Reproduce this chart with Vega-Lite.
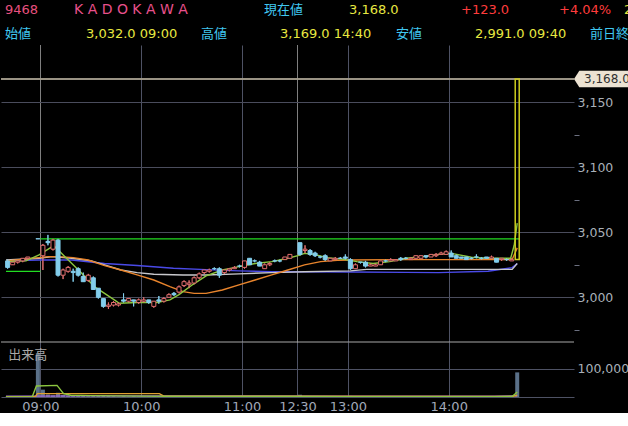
{
  "$schema": "https://vega.github.io/schema/vega-lite/v6.json",
  "background": "#000000",
  "padding": 0,
  "spacing": 0,
  "bounds": "flush",
  "config": {"view": {"stroke": null}, "font": "DejaVu Sans"},
  "resolve": {"scale": {"color": "independent", "fill": "independent", "stroke": "independent"}},
  "datasets": {
    "header": [
      {"x": 4, "row": 10, "label": "9468", "kind": "code"},
      {"x": 73, "row": 10, "label": "K A D O K A W A", "kind": "name"},
      {"x": 263, "row": 10, "label": "現在値", "kind": "cap"},
      {"x": 348, "row": 10, "label": "3,168.0", "kind": "val"},
      {"x": 460, "row": 10, "label": "+123.0", "kind": "chg"},
      {"x": 558, "row": 10, "label": "+4.04%", "kind": "chg"},
      {"x": 623, "row": 10, "label": "2", "kind": "val"},
      {"x": 4, "row": 34, "label": "始値", "kind": "cap"},
      {"x": 85, "row": 34, "label": "3,032.0 09:00", "kind": "val"},
      {"x": 200, "row": 34, "label": "高値", "kind": "cap"},
      {"x": 279, "row": 34, "label": "3,169.0 14:40", "kind": "val"},
      {"x": 395, "row": 34, "label": "安値", "kind": "cap"},
      {"x": 474, "row": 34, "label": "2,991.0 09:40", "kind": "val"},
      {"x": 589, "row": 34, "label": "前日終値", "kind": "cap"}
    ],
    "candles": [
      {"s": -6.5, "o": 3028, "h": 3029, "l": 3022, "c": 3023},
      {"s": -5.5, "o": 3025, "h": 3027, "l": 3025, "c": 3027},
      {"s": -4.5, "o": 3027, "h": 3028, "l": 3026, "c": 3028},
      {"s": -3.5, "o": 3028, "h": 3030, "l": 3027, "c": 3030},
      {"s": -2.5, "o": 3030, "h": 3031, "l": 3029, "c": 3031},
      {"s": -0.5, "o": 3045, "h": 3045, "l": 3045, "c": 3045},
      {"s": 0.5, "o": 3032, "h": 3041, "l": 3021, "c": 3040},
      {"s": 1.5, "o": 3043, "h": 3048, "l": 3040, "c": 3042},
      {"s": 2.5, "o": 3037, "h": 3045, "l": 3036, "c": 3044},
      {"s": 3.5, "o": 3044, "h": 3045, "l": 3016, "c": 3017},
      {"s": 4.5, "o": 3017, "h": 3022, "l": 3014, "c": 3021},
      {"s": 5.5, "o": 3020, "h": 3024, "l": 3019, "c": 3023},
      {"s": 6.5, "o": 3020, "h": 3022, "l": 3012, "c": 3019},
      {"s": 7.5, "o": 3022, "h": 3023, "l": 3016, "c": 3017},
      {"s": 8.5, "o": 3016, "h": 3019, "l": 3012, "c": 3012},
      {"s": 9.5, "o": 3013, "h": 3018, "l": 3012, "c": 3017},
      {"s": 10.5, "o": 3015, "h": 3016, "l": 3006, "c": 3006},
      {"s": 11.5, "o": 3007, "h": 3007, "l": 2999, "c": 3000},
      {"s": 12.5, "o": 2999, "h": 2999, "l": 2992, "c": 2993},
      {"s": 13.5, "o": 2993, "h": 2996, "l": 2991, "c": 2994},
      {"s": 14.5, "o": 2994, "h": 2997, "l": 2993, "c": 2996},
      {"s": 15.5, "o": 2994, "h": 2996, "l": 2993, "c": 2995},
      {"s": 16.5, "o": 2998, "h": 3003, "l": 2996, "c": 2997},
      {"s": 17.5, "o": 2997, "h": 2999, "l": 2996, "c": 2999},
      {"s": 18.5, "o": 2998, "h": 2998, "l": 2993, "c": 2997},
      {"s": 19.5, "o": 2996, "h": 2999, "l": 2995, "c": 2998},
      {"s": 20.5, "o": 2997, "h": 3000, "l": 2996, "c": 2998},
      {"s": 21.5, "o": 2998, "h": 2998, "l": 2995, "c": 2996},
      {"s": 22.5, "o": 2993, "h": 2997, "l": 2992, "c": 2997},
      {"s": 23.5, "o": 2998, "h": 3001, "l": 2995, "c": 2997},
      {"s": 24.5, "o": 2997, "h": 3000, "l": 2996, "c": 2999},
      {"s": 25.5, "o": 3000, "h": 3003, "l": 3000, "c": 3002},
      {"s": 26.5, "o": 3003, "h": 3004, "l": 3001, "c": 3002},
      {"s": 27.5, "o": 3004, "h": 3009, "l": 3003, "c": 3008},
      {"s": 28.5, "o": 3009, "h": 3013, "l": 3008, "c": 3012},
      {"s": 29.5, "o": 3010, "h": 3013, "l": 3007, "c": 3011},
      {"s": 30.5, "o": 3011, "h": 3016, "l": 3010, "c": 3015},
      {"s": 31.5, "o": 3015, "h": 3019, "l": 3014, "c": 3018},
      {"s": 32.5, "o": 3019, "h": 3021, "l": 3018, "c": 3021},
      {"s": 33.5, "o": 3020, "h": 3022, "l": 3019, "c": 3021},
      {"s": 34.5, "o": 3022, "h": 3023, "l": 3021, "c": 3022},
      {"s": 35.5, "o": 3022, "h": 3023, "l": 3015, "c": 3017},
      {"s": 36.5, "o": 3019, "h": 3021, "l": 3018, "c": 3021},
      {"s": 37.5, "o": 3021, "h": 3022, "l": 3020, "c": 3022},
      {"s": 38.5, "o": 3022, "h": 3024, "l": 3022, "c": 3023},
      {"s": 39.5, "o": 3024, "h": 3025, "l": 3023, "c": 3024},
      {"s": 40.5, "o": 3023, "h": 3028, "l": 3022, "c": 3028},
      {"s": 41.5, "o": 3030, "h": 3030, "l": 3025, "c": 3025},
      {"s": 42.5, "o": 3028, "h": 3029, "l": 3027, "c": 3028},
      {"s": 43.5, "o": 3027, "h": 3028, "l": 3024, "c": 3024},
      {"s": 44.5, "o": 3022, "h": 3026, "l": 3022, "c": 3025},
      {"s": 45.5, "o": 3025, "h": 3027, "l": 3024, "c": 3026},
      {"s": 46.5, "o": 3028, "h": 3029, "l": 3027, "c": 3028},
      {"s": 47.5, "o": 3028, "h": 3029, "l": 3027, "c": 3028},
      {"s": 48.5, "o": 3029, "h": 3031, "l": 3029, "c": 3031},
      {"s": 49.5, "o": 3030, "h": 3033, "l": 3030, "c": 3033},
      {"s": 51.5, "o": 3042, "h": 3042, "l": 3032, "c": 3033},
      {"s": 52.5, "o": 3036, "h": 3040, "l": 3034, "c": 3037},
      {"s": 53.5, "o": 3036, "h": 3037, "l": 3032, "c": 3033},
      {"s": 54.5, "o": 3034, "h": 3035, "l": 3031, "c": 3032},
      {"s": 55.5, "o": 3031, "h": 3032, "l": 3030, "c": 3031},
      {"s": 56.5, "o": 3032, "h": 3033, "l": 3028, "c": 3029},
      {"s": 57.5, "o": 3028, "h": 3030, "l": 3028, "c": 3030},
      {"s": 58.5, "o": 3029, "h": 3031, "l": 3029, "c": 3030},
      {"s": 59.5, "o": 3030, "h": 3031, "l": 3030, "c": 3030},
      {"s": 60.5, "o": 3031, "h": 3033, "l": 3029, "c": 3030},
      {"s": 61.5, "o": 3029, "h": 3030, "l": 3021, "c": 3022},
      {"s": 62.5, "o": 3022, "h": 3026, "l": 3022, "c": 3025},
      {"s": 63.5, "o": 3027, "h": 3027, "l": 3026, "c": 3027},
      {"s": 64.5, "o": 3027, "h": 3028, "l": 3023, "c": 3024},
      {"s": 65.5, "o": 3024, "h": 3026, "l": 3024, "c": 3025},
      {"s": 66.5, "o": 3024, "h": 3026, "l": 3024, "c": 3025},
      {"s": 67.5, "o": 3025, "h": 3028, "l": 3025, "c": 3028},
      {"s": 68.5, "o": 3028, "h": 3029, "l": 3027, "c": 3028},
      {"s": 69.5, "o": 3028, "h": 3030, "l": 3028, "c": 3029},
      {"s": 70.5, "o": 3028, "h": 3029, "l": 3028, "c": 3029},
      {"s": 71.5, "o": 3030, "h": 3031, "l": 3028, "c": 3029},
      {"s": 72.5, "o": 3030, "h": 3031, "l": 3029, "c": 3030},
      {"s": 73.5, "o": 3029, "h": 3031, "l": 3029, "c": 3030},
      {"s": 74.5, "o": 3030, "h": 3032, "l": 3029, "c": 3032},
      {"s": 75.5, "o": 3030, "h": 3032, "l": 3030, "c": 3032},
      {"s": 76.5, "o": 3032, "h": 3032, "l": 3030, "c": 3031},
      {"s": 77.5, "o": 3031, "h": 3033, "l": 3031, "c": 3033},
      {"s": 78.5, "o": 3032, "h": 3034, "l": 3031, "c": 3033},
      {"s": 79.5, "o": 3033, "h": 3035, "l": 3033, "c": 3034},
      {"s": 80.5, "o": 3033, "h": 3036, "l": 3033, "c": 3035},
      {"s": 81.5, "o": 3034, "h": 3036, "l": 3031, "c": 3031},
      {"s": 82.5, "o": 3032, "h": 3033, "l": 3030, "c": 3030},
      {"s": 83.5, "o": 3031, "h": 3031, "l": 3030, "c": 3030},
      {"s": 84.5, "o": 3031, "h": 3031, "l": 3029, "c": 3029},
      {"s": 85.5, "o": 3030, "h": 3031, "l": 3029, "c": 3030},
      {"s": 86.5, "o": 3031, "h": 3033, "l": 3030, "c": 3031},
      {"s": 87.5, "o": 3030, "h": 3031, "l": 3029, "c": 3030},
      {"s": 88.5, "o": 3031, "h": 3031, "l": 3030, "c": 3030},
      {"s": 89.5, "o": 3030, "h": 3032, "l": 3030, "c": 3031},
      {"s": 90.5, "o": 3030, "h": 3030, "l": 3027, "c": 3027},
      {"s": 91.5, "o": 3029, "h": 3030, "l": 3028, "c": 3030},
      {"s": 92.5, "o": 3029, "h": 3030, "l": 3028, "c": 3029},
      {"s": 93.5, "o": 3028, "h": 3030, "l": 3028, "c": 3029}
    ],
    "latest": [{"s": 94.6, "o": 3029, "h": 3169, "l": 3028, "c": 3168}],
    "refs": [
      {"s": -6.823, "s2": 0, "p": 3020},
      {"s": 0, "s2": 95.1, "p": 3045}
    ],
    "ma": [
      {"k": "b", "s": -6.823, "p": 3028}, {"k": "b", "s": -0.27, "p": 3028.7}, {"k": "b", "s": 6.23, "p": 3028.7}, {"k": "b", "s": 12.73, "p": 3026}, {"k": "b", "s": 19.2, "p": 3024.4}, {"k": "b", "s": 26.4, "p": 3022.3}, {"k": "b", "s": 32.87, "p": 3021.3}, {"k": "b", "s": 39.4, "p": 3020.3}, {"k": "b", "s": 45.9, "p": 3019.7}, {"k": "b", "s": 52.4, "p": 3019.7}, {"k": "b", "s": 61.5, "p": 3019.5}, {"k": "b", "s": 72.5, "p": 3019.2}, {"k": "b", "s": 79, "p": 3019}, {"k": "b", "s": 88.8, "p": 3020}, {"k": "b", "s": 93.6, "p": 3022.8}, {"k": "b", "s": 94.6, "p": 3026},
      {"k": "w", "s": -6.823, "p": 3028.7}, {"k": "w", "s": -0.27, "p": 3030}, {"k": "w", "s": 2.33, "p": 3031.3}, {"k": "w", "s": 6.23, "p": 3030}, {"k": "w", "s": 10.13, "p": 3028}, {"k": "w", "s": 12.73, "p": 3024.9}, {"k": "w", "s": 15.98, "p": 3021}, {"k": "w", "s": 19.2, "p": 3019}, {"k": "w", "s": 22.5, "p": 3017.7}, {"k": "w", "s": 28.3, "p": 3017.2}, {"k": "w", "s": 32.87, "p": 3017.2}, {"k": "w", "s": 39.4, "p": 3018}, {"k": "w", "s": 45.9, "p": 3019}, {"k": "w", "s": 52.4, "p": 3019.7}, {"k": "w", "s": 61.5, "p": 3020.3}, {"k": "w", "s": 64.7, "p": 3021.5}, {"k": "w", "s": 93.6, "p": 3021.5}, {"k": "w", "s": 94.6, "p": 3026},
      {"k": "o", "s": -6.823, "p": 3028}, {"k": "o", "s": -0.27, "p": 3030.5}, {"k": "o", "s": 1.68, "p": 3031.3}, {"k": "o", "s": 3.63, "p": 3031.3}, {"k": "o", "s": 6.5, "p": 3030.5}, {"k": "o", "s": 9.48, "p": 3028.7}, {"k": "o", "s": 12.73, "p": 3024.4}, {"k": "o", "s": 15.98, "p": 3021}, {"k": "o", "s": 19.2, "p": 3017.2}, {"k": "o", "s": 22.5, "p": 3013.3}, {"k": "o", "s": 25.7, "p": 3008.2}, {"k": "o", "s": 28.3, "p": 3004.4}, {"k": "o", "s": 30.5, "p": 3003}, {"k": "o", "s": 32.87, "p": 3003}, {"k": "o", "s": 36.1, "p": 3005.6}, {"k": "o", "s": 39.4, "p": 3009.5}, {"k": "o", "s": 42.6, "p": 3013.3}, {"k": "o", "s": 45.9, "p": 3017.2}, {"k": "o", "s": 49.1, "p": 3021}, {"k": "o", "s": 52.4, "p": 3024.9}, {"k": "o", "s": 55.6, "p": 3027.4}, {"k": "o", "s": 58.9, "p": 3028.5}, {"k": "o", "s": 61.5, "p": 3028.7}, {"k": "o", "s": 70, "p": 3029}, {"k": "o", "s": 80, "p": 3029}, {"k": "o", "s": 93.6, "p": 3029}, {"k": "o", "s": 94.6, "p": 3038},
      {"k": "g", "s": -6.823, "p": 3027.4}, {"k": "g", "s": -2.87, "p": 3028}, {"k": "g", "s": -0.27, "p": 3032.6}, {"k": "g", "s": 2.66, "p": 3039.7}, {"k": "g", "s": 4.93, "p": 3031}, {"k": "g", "s": 7.2, "p": 3022.3}, {"k": "g", "s": 8.83, "p": 3016}, {"k": "g", "s": 10.78, "p": 3008}, {"k": "g", "s": 12.73, "p": 3003}, {"k": "g", "s": 14.67, "p": 2998}, {"k": "g", "s": 15.65, "p": 2995.4}, {"k": "g", "s": 19.2, "p": 2996}, {"k": "g", "s": 23.1, "p": 2996}, {"k": "g", "s": 25.7, "p": 2998}, {"k": "g", "s": 27.5, "p": 3002}, {"k": "g", "s": 30.3, "p": 3010}, {"k": "g", "s": 32.87, "p": 3016.5}, {"k": "g", "s": 36.1, "p": 3021}, {"k": "g", "s": 39.4, "p": 3023.6}, {"k": "g", "s": 42.6, "p": 3026}, {"k": "g", "s": 45.9, "p": 3027.4}, {"k": "g", "s": 49.1, "p": 3030}, {"k": "g", "s": 51.1, "p": 3032}, {"k": "g", "s": 52.4, "p": 3033.8}, {"k": "g", "s": 54.3, "p": 3033}, {"k": "g", "s": 56.9, "p": 3030.5}, {"k": "g", "s": 60.2, "p": 3029.2}, {"k": "g", "s": 62.8, "p": 3027.4}, {"k": "g", "s": 66, "p": 3026}, {"k": "g", "s": 69.3, "p": 3027.4}, {"k": "g", "s": 72.5, "p": 3030}, {"k": "g", "s": 75.8, "p": 3031.3}, {"k": "g", "s": 79, "p": 3033}, {"k": "g", "s": 81.6, "p": 3033.8}, {"k": "g", "s": 85.5, "p": 3030.8}, {"k": "g", "s": 88.8, "p": 3030}, {"k": "g", "s": 93.3, "p": 3030}, {"k": "g", "s": 94, "p": 3040}, {"k": "g", "s": 94.6, "p": 3057}
    ],
    "volume": [
      {"s": -6.5, "v": 2000}, {"s": -5.5, "v": 1500}, {"s": -4.5, "v": 2000}, {"s": -3.5, "v": 1500}, {"s": -2.5, "v": 2500}, {"s": -0.5, "v": 155000},
      {"s": 0.5, "v": 26000}, {"s": 1.5, "v": 9000}, {"s": 2.5, "v": 6000}, {"s": 3.5, "v": 15000}, {"s": 4.5, "v": 7000}, {"s": 5.5, "v": 4000}, {"s": 6.5, "v": 6000}, {"s": 7.5, "v": 4000}, {"s": 8.5, "v": 5000}, {"s": 9.5, "v": 3000},
      {"s": 10.5, "v": 6000}, {"s": 11.5, "v": 5000}, {"s": 12.5, "v": 7000}, {"s": 13.5, "v": 4000}, {"s": 14.5, "v": 3000}, {"s": 15.5, "v": 2000}, {"s": 16.5, "v": 3000}, {"s": 17.5, "v": 2000}, {"s": 18.5, "v": 3000}, {"s": 19.5, "v": 2000},
      {"s": 20.5, "v": 2000}, {"s": 21.5, "v": 2000}, {"s": 22.5, "v": 3000}, {"s": 23.5, "v": 2000}, {"s": 24.5, "v": 2000}, {"s": 25.5, "v": 2000}, {"s": 26.5, "v": 1500}, {"s": 27.5, "v": 3000}, {"s": 28.5, "v": 3000}, {"s": 29.5, "v": 2000},
      {"s": 30.5, "v": 3000}, {"s": 31.5, "v": 2000}, {"s": 32.5, "v": 2000}, {"s": 33.5, "v": 1500}, {"s": 34.5, "v": 1500}, {"s": 35.5, "v": 3000}, {"s": 36.5, "v": 2000}, {"s": 37.5, "v": 1500}, {"s": 38.5, "v": 1500}, {"s": 39.5, "v": 1500},
      {"s": 40.5, "v": 2500}, {"s": 41.5, "v": 3000}, {"s": 42.5, "v": 1500}, {"s": 43.5, "v": 2000}, {"s": 44.5, "v": 2000}, {"s": 45.5, "v": 1500}, {"s": 46.5, "v": 1500}, {"s": 47.5, "v": 1500}, {"s": 48.5, "v": 2000}, {"s": 49.5, "v": 2500},
      {"s": 51.5, "v": 8000}, {"s": 52.5, "v": 3000}, {"s": 53.5, "v": 2500}, {"s": 54.5, "v": 2000}, {"s": 55.5, "v": 1500}, {"s": 56.5, "v": 2000}, {"s": 57.5, "v": 1500}, {"s": 58.5, "v": 1000}, {"s": 59.5, "v": 1500}, {"s": 60.5, "v": 1500},
      {"s": 61.5, "v": 4000}, {"s": 62.5, "v": 2000}, {"s": 63.5, "v": 1000}, {"s": 64.5, "v": 2000}, {"s": 65.5, "v": 1000}, {"s": 66.5, "v": 1000}, {"s": 67.5, "v": 1500}, {"s": 68.5, "v": 1000}, {"s": 69.5, "v": 1000}, {"s": 70.5, "v": 1000},
      {"s": 71.5, "v": 1000}, {"s": 72.5, "v": 1000}, {"s": 73.5, "v": 1500}, {"s": 74.5, "v": 1500}, {"s": 75.5, "v": 1000}, {"s": 76.5, "v": 1500}, {"s": 77.5, "v": 1000}, {"s": 78.5, "v": 1500}, {"s": 79.5, "v": 1500}, {"s": 80.5, "v": 1500},
      {"s": 81.5, "v": 2000}, {"s": 82.5, "v": 1500}, {"s": 83.5, "v": 1000}, {"s": 84.5, "v": 1000}, {"s": 85.5, "v": 1000}, {"s": 86.5, "v": 1000}, {"s": 87.5, "v": 1000}, {"s": 88.5, "v": 1000}, {"s": 89.5, "v": 1500}, {"s": 90.5, "v": 2000},
      {"s": 91.5, "v": 1000}, {"s": 92.5, "v": 1000}, {"s": 93.5, "v": 1500}, {"s": 94.6, "v": 87000}
    ],
    "vma": [
      {"m": "p", "s": -6.823, "v": 2500}, {"m": "p", "s": 10, "v": 4000}, {"m": "p", "s": 30, "v": 4000}, {"m": "p", "s": 60, "v": 3000}, {"m": "p", "s": 90, "v": 2500}, {"m": "p", "s": 94.6, "v": 4000},
      {"m": "o", "s": -6.823, "v": 1000}, {"m": "o", "s": -1.0, "v": 1500}, {"m": "o", "s": -0.6, "v": 12000}, {"m": "o", "s": 23.6, "v": 12000}, {"m": "o", "s": 24.5, "v": 3000}, {"m": "o", "s": 50, "v": 2500}, {"m": "o", "s": 93.6, "v": 2000}, {"m": "o", "s": 94.6, "v": 6000},
      {"m": "g", "s": -6.823, "v": 500}, {"m": "g", "s": -1.6, "v": 1500}, {"m": "g", "s": -0.8, "v": 39000}, {"m": "g", "s": 3.3, "v": 41000}, {"m": "g", "s": 4.6, "v": 12000}, {"m": "g", "s": 6, "v": 6000}, {"m": "g", "s": 10, "v": 5000}, {"m": "g", "s": 15, "v": 4000}, {"m": "g", "s": 20, "v": 3000}, {"m": "g", "s": 30, "v": 2000}, {"m": "g", "s": 50, "v": 2000}, {"m": "g", "s": 60, "v": 1500}, {"m": "g", "s": 90, "v": 1500}, {"m": "g", "s": 93.6, "v": 2000}, {"m": "g", "s": 94.6, "v": 18000}
    ],
    "vlabel": [{"s": -6.4, "v": 148000, "label": "出来高"}]
  },
  "vconcat": [
    {
      "width": 628,
      "height": 45,
      "data": {"name": "header"},
      "encoding": {
        "x": {"field": "x", "type": "quantitative", "scale": {"domain": [0, 628], "nice": false, "zero": false}, "axis": null},
        "y": {"field": "row", "type": "quantitative", "scale": {"domain": [0, 45], "reverse": true, "nice": false, "zero": false}, "axis": null},
        "text": {"field": "label"},
        "color": {"field": "kind", "type": "nominal", "scale": {"domain": ["code", "name", "cap", "val", "chg"], "range": ["#e8507f", "#e8508c", "#40c8f0", "#e8e840", "#ff3c3c"]}, "legend": null}
      },
      "layer": [
        {"transform": [{"filter": "datum.kind !== 'name'"}], "mark": {"type": "text", "align": "left", "baseline": "middle", "fontSize": 13, "font": "'DejaVu Sans', 'Noto Sans CJK JP'"}},
        {"transform": [{"filter": "datum.kind === 'name'"}], "mark": {"type": "text", "align": "left", "baseline": "middle", "fontSize": 14, "font": "'DejaVu Sans', 'Noto Sans CJK JP'"}}
      ]
    },
    {
      "width": 573,
      "height": 297,
      "layer": [
        {
          "data": {"name": "candles"},
          "mark": {"type": "rule", "strokeWidth": 1, "clip": true},
          "encoding": {
            "x": {"field": "s", "type": "quantitative", "scale": {"domain": [-6.823, 104.873], "nice": false, "zero": false}, "axis": {"values": [0, 20, 40, 51, 61, 81], "grid": true, "labels": false, "ticks": false, "domain": false, "title": null, "gridColor": {"condition": {"test": "datum.value === 0 || datum.value === 51", "value": "#ffffff"}, "value": "#4e5264"}, "gridDash": {"condition": {"test": "datum.value === 0 || datum.value === 51", "value": [1, 1]}, "value": []}}},
            "y": {"field": "l", "type": "quantitative", "scale": {"domain": [2965.6, 3194.1], "nice": false, "zero": false}, "axis": {"orient": "right", "values": [2975, 2987.5, 3000, 3012.5, 3025, 3037.5, 3050, 3062.5, 3075, 3087.5, 3100, 3112.5, 3125, 3137.5, 3150], "labelExpr": "datum.value % 50 === 0 ? format(datum.value, ',') : ''", "grid": true, "gridColor": "#4a4c5c", "gridOpacity": {"condition": {"test": "datum.value % 50 === 0", "value": 1}, "value": 0}, "ticks": true, "tickColor": "#6c7080", "tickSize": 5, "tickOpacity": {"condition": {"test": "datum.value % 50 === 0", "value": 0}, "value": 1}, "labelPadding": -2, "labelColor": "#a8b0b8", "labelFontSize": 12.5, "labelFont": "DejaVu Sans", "labelOverlap": false, "labelBound": false, "domain": false, "title": null}},
            "y2": {"field": "h"},
            "color": {"condition": {"test": "datum.c > datum.o", "value": "#e06e6e"}, "value": "#82cdeb"}
          }
        },
        {
          "data": {"name": "refs"},
          "mark": {"type": "rule", "color": "#22dd22", "strokeWidth": 1.2, "clip": true},
          "encoding": {
            "x": {"field": "s", "type": "quantitative"},
            "x2": {"field": "s2"},
            "y": {"field": "p", "type": "quantitative"}
          }
        },
        {
          "data": {"name": "refs"},
          "mark": {"type": "rule", "color": "#a49e8e", "strokeWidth": 1.5},
          "encoding": {"y": {"datum": 3168, "type": "quantitative"}}
        },
        {
          "data": {"name": "ma"},
          "mark": {"type": "line", "strokeWidth": 1.4, "clip": true},
          "encoding": {
            "x": {"field": "s", "type": "quantitative"},
            "y": {"field": "p", "type": "quantitative"},
            "color": {"field": "k", "type": "nominal", "scale": {"domain": ["b", "w", "o", "g"], "range": ["#4a4ae8", "#c8c8cc", "#e8842c", "#8cc63f"]}, "legend": null}
          }
        },
        {
          "data": {"name": "candles"},
          "mark": {"type": "rule", "strokeWidth": 1, "clip": true},
          "encoding": {
            "x": {"field": "s", "type": "quantitative"},
            "y": {"field": "l", "type": "quantitative"},
            "y2": {"field": "h"},
            "color": {"condition": {"test": "datum.c > datum.o", "value": "#e06e6e"}, "value": "#82cdeb"}
          }
        },
        {
          "data": {"name": "candles"},
          "mark": {"type": "bar", "width": 4, "strokeWidth": 1, "clip": true},
          "encoding": {
            "x": {"field": "s", "type": "quantitative"},
            "y": {"field": "o", "type": "quantitative"},
            "y2": {"field": "c"},
            "fill": {"condition": {"test": "datum.c > datum.o", "value": "#000000"}, "value": "#82cdeb"},
            "stroke": {"condition": {"test": "datum.c > datum.o", "value": "#e06e6e"}, "value": "#82cdeb"}
          }
        },
        {
          "data": {"name": "latest"},
          "mark": {"type": "bar", "width": 4, "filled": false, "stroke": "#cccc1e", "strokeWidth": 1.5},
          "encoding": {
            "x": {"field": "s", "type": "quantitative"},
            "y": {"field": "o", "type": "quantitative"},
            "y2": {"field": "c"}
          }
        },
        {
          "data": {"name": "latest"},
          "mark": {"type": "point", "shape": "M0,0L0.18,-0.28L2,-0.28L2,0.28L0.18,0.28Z", "size": 3505, "filled": true, "fill": "#ece2d2", "opacity": 1, "strokeWidth": 0},
          "encoding": {
            "x": {"value": "width"},
            "y": {"field": "c", "type": "quantitative"}
          }
        },
        {
          "data": {"name": "latest"},
          "mark": {"type": "text", "align": "left", "baseline": "middle", "dx": 10, "fontSize": 12, "color": "#303030", "font": "DejaVu Sans"},
          "encoding": {
            "x": {"value": "width"},
            "y": {"field": "c", "type": "quantitative"},
            "text": {"field": "c", "type": "quantitative", "format": ",.1f"}
          }
        }
      ]
    },
    {
      "width": 573,
      "height": 55,
      "layer": [
        {
          "data": {"name": "volume"},
          "mark": {"type": "bar", "width": 4, "color": "#5a7088", "clip": true},
          "encoding": {
            "x": {"field": "s", "type": "quantitative", "scale": {"domain": [-6.823, 104.873], "nice": false, "zero": false}, "axis": {"values": [0, 20, 40, 51, 61, 81], "grid": true, "gridColor": "#4e5264", "ticks": false, "domain": false, "title": null, "labelExpr": "datum.value === 0 ? '09:00' : datum.value === 20 ? '10:00' : datum.value === 40 ? '11:00' : datum.value === 51 ? '12:30' : datum.value === 61 ? '13:00' : '14:00'", "labelColor": "#a0a8b8", "labelFontSize": 13, "labelFont": "DejaVu Sans", "labelPadding": 3, "labelFlush": false, "labelOverlap": false, "labelBound": false}},
            "y": {"field": "v", "type": "quantitative", "stack": null, "scale": {"domain": [0, 194346], "nice": false, "zero": false}, "axis": {"orient": "right", "values": [0, 100000], "labelExpr": "datum.value === 0 ? '' : format(datum.value, ',')", "grid": true, "gridColor": "#4e5264", "ticks": false, "domain": false, "labelPadding": 3, "labelColor": "#a8b0b8", "labelFontSize": 12.5, "labelFont": "DejaVu Sans", "labelOverlap": false, "labelBound": false, "title": null}}
          }
        },
        {
          "data": {"name": "vma"},
          "mark": {"type": "line", "strokeWidth": 1.4, "clip": true},
          "encoding": {
            "x": {"field": "s", "type": "quantitative"},
            "y": {"field": "v", "type": "quantitative"},
            "color": {"field": "m", "type": "nominal", "scale": {"domain": ["p", "o", "g"], "range": ["#9a6ad0", "#e0a030", "#8cc63f"]}, "legend": null}
          }
        },
        {
          "data": {"name": "vlabel"},
          "mark": {"type": "rule", "color": "#a8a8a8", "strokeWidth": 1},
          "encoding": {"y": {"datum": 194346, "type": "quantitative"}}
        },
        {
          "data": {"name": "vlabel"},
          "mark": {"type": "text", "align": "left", "baseline": "middle", "fontSize": 13, "color": "#a8a8a8", "font": "'Noto Sans CJK JP'"},
          "encoding": {
            "x": {"field": "s", "type": "quantitative"},
            "y": {"field": "v", "type": "quantitative"},
            "text": {"field": "label"}
          }
        }
      ]
    }
  ]
}
